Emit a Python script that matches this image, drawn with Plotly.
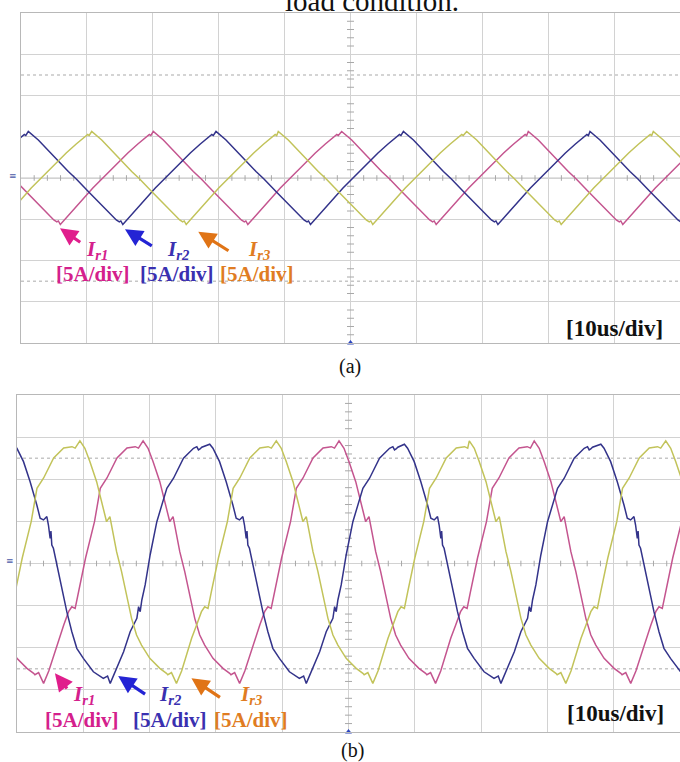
import plotly.graph_objects as go

W, H = 680, 762

# ---------------- Panel (a): light load (time in us, current in A) ----------------
# one measured cycle, offsets from a peak
A_CYCLE_T = [0.0, 1.52, 3.03, 4.55, 6.07, 7.28, 9.10, 10.62, 12.14, 13.35, 13.81, 14.04, 14.34,
             15.78, 17.45, 19.27, 20.94, 22.76, 24.58, 26.10, 27.31, 27.85, 28.07]
A_CYCLE_I = [5.64, 4.61, 3.39, 2.06, 0.79, -0.12, -1.64, -2.91, -4.18, -5.09, -5.33, -5.21, -5.64,
             -4.36, -2.79, -1.21, 0.12, 1.64, 3.03, 4.12, 4.91, 5.27, 5.15]
# measured peak times of each phase
A_PEAKS_IR1 = [-8.37, 20.08, 48.66, 76.98]
A_PEAKS_IR2 = [-27.34, 1.11, 29.59, 58.03, 86.34]
A_PEAKS_IR3 = [-17.72, 10.73, 39.04, 67.63, 95.95]

# ---------------- Panel (b): heavy load ----------------
B_CYCLE_T = [0.0, 0.75, 1.51, 2.52, 3.27, 3.77, 4.02, 4.52, 4.77, 5.53, 6.28, 7.03, 7.79, 8.54,
             9.29, 10.54, 12.05, 13.06, 13.25, 13.81, 14.56, 15.34, 16.10, 16.85, 17.60, 18.33,
             18.82, 19.32, 19.83, 20.89, 22.24, 23.11, 24.12, 25.63, 27.14, 28.39, 28.87]
B_CYCLE_I = [14.55, 13.68, 12.09, 9.71, 7.34, 5.76, 4.96, 5.56, 4.57, 1.40, -0.97, -3.74, -6.51, -8.49,
             -9.68, -11.26, -12.45, -13.04, -13.20, -12.95, -14.23, -12.77, -10.87, -8.88, -7.30, -5.72,
             -5.13, -5.32, -3.35, 0.65, 4.96, 8.93, 10.15, 12.53, 13.72, 13.87, 13.70]
B_BLUE_T = [0.0, 0.48, 1.48, 2.48, 3.49, 3.99, 4.49, 5.00, 5.24, 5.50, 5.62, 5.75, 5.99, 6.51, 7.50,
            8.01, 8.77, 9.52, 10.51, 12.02, 13.52, 14.16, 14.56, 15.57, 16.58, 17.57, 18.58, 18.84,
            19.08, 19.33, 19.59, 19.83, 20.58, 21.59, 23.10, 24.11, 25.61, 27.12, 27.62, 27.87,
            28.11, 28.37]
B_BLUE_I = [14.16, 13.68, 12.09, 9.71, 6.95, 5.37, 5.17, 5.56, 4.57, 2.99, 3.86, 2.20, 1.81, -0.18,
            -3.74, -5.72, -8.10, -10.07, -11.26, -12.85, -13.63, -13.36, -14.23, -12.45, -10.47,
            -8.10, -6.51, -5.13, -5.72, -4.33, -3.35, -2.55, 1.01, 4.96, 8.93, 10.12, 12.49, 13.68,
            13.87, 13.48, 13.60, 13.80]
B_PEAKS_IR1 = [-10.55, 19.02, 48.57, 78.01]
B_PEAKS_IR2 = [-0.50, 29.07, 58.43, 88.06]
B_PEAKS_IR3 = [-20.10, 9.49, 39.11, 68.22, 97.85]

COL_IR1 = "#c4558f"
COL_IR2 = "#33338a"
COL_IR3 = "#c2c35a"
TXT_IR1 = "#d4208c"
TXT_IR2 = "#3a30b0"
TXT_IR3 = "#e07c22"
ARR_IR1 = "#e01e8c"
ARR_IR2 = "#2424d4"
ARR_IR3 = "#e07416"


def build(peaks, ct, ci):
    t, y = [], []
    for k, p in enumerate(peaks):
        nxt = peaks[k + 1] if k + 1 < len(peaks) else None
        for dt, v in zip(ct, ci):
            if nxt is not None and p + dt >= nxt:
                break
            t.append(p + dt)
            y.append(v)
    return t, y


fig = go.Figure()

panels = [
    ("x", "y", [(A_PEAKS_IR1, A_CYCLE_T, A_CYCLE_I, COL_IR1, "Ir1"),
                (A_PEAKS_IR2, A_CYCLE_T, A_CYCLE_I, COL_IR2, "Ir2"),
                (A_PEAKS_IR3, A_CYCLE_T, A_CYCLE_I, COL_IR3, "Ir3")]),
    ("x2", "y2", [(B_PEAKS_IR1, B_CYCLE_T, B_CYCLE_I, COL_IR1, "Ir1"),
                  (B_PEAKS_IR2, B_BLUE_T, B_BLUE_I, COL_IR2, "Ir2"),
                  (B_PEAKS_IR3, B_CYCLE_T, B_CYCLE_I, COL_IR3, "Ir3")]),
]

shapes = []
for xa, ya, series in panels:
    # center tick marks (oscilloscope graticule)
    tx = [i * 2 for i in range(1, 50) if i % 5 != 0]
    fig.add_trace(go.Scatter(x=tx, y=[0] * len(tx), xaxis=xa, yaxis=ya, mode="markers",
                             marker=dict(symbol="line-ns", size=4, line=dict(width=1, color="#a8a8a8")),
                             hoverinfo="skip", showlegend=False))
    ty = [i for i in range(-19, 20) if i % 5 != 0]
    fig.add_trace(go.Scatter(x=[50] * len(ty), y=ty, xaxis=xa, yaxis=ya, mode="markers",
                             marker=dict(symbol="line-ew", size=5, line=dict(width=1, color="#a8a8a8")),
                             hoverinfo="skip", showlegend=False))
    for peaks, ct, ci, col, nm in series:
        t, y = build(peaks, ct, ci)
        fig.add_trace(go.Scatter(x=t, y=y, xaxis=xa, yaxis=ya, mode="lines", name=nm,
                                 line=dict(color=col, width=1.5), showlegend=False))
    # trigger marker
    fig.add_trace(go.Scatter(x=[50], y=[-20], xaxis=xa, yaxis=ya, mode="markers",
                             marker=dict(symbol="triangle-up", size=6, color="#2a44c0"),
                             cliponaxis=False, hoverinfo="skip", showlegend=False))
    for yv in (12.5, -12.5):
        shapes.append(dict(type="line", xref=xa, yref=ya, x0=0, x1=100, y0=yv, y1=yv,
                           line=dict(color="#c6c6c6", width=1.5, dash="dot"), layer="below"))
    shapes.append(dict(type="line", xref=xa, yref=ya, x0=0, x1=100, y0=0, y1=0,
                       line=dict(color="#c4c4c4", width=1), layer="below"))
    shapes.append(dict(type="line", xref=xa, yref=ya, x0=50, x1=50, y0=-20, y1=20,
                       line=dict(color="#b0b0b0", width=1), layer="below"))

axc = dict(showticklabels=False, ticks="", showgrid=True, gridcolor="#d2d2d2", gridwidth=1,
           zeroline=False, showline=True, linecolor="#b8b8b8", linewidth=1, mirror=True,
           fixedrange=True)

fig.update_layout(
    width=W, height=H, margin=dict(l=0, r=0, t=0, b=0),
    paper_bgcolor="white", plot_bgcolor="white",
    xaxis=dict(domain=[21 / W, 1], range=[0, 100], dtick=10, tick0=0, anchor="y", **axc),
    yaxis=dict(domain=[1 - 343 / H, 1 - 13 / H], range=[-20, 20], dtick=5, tick0=0, anchor="x", **axc),
    xaxis2=dict(domain=[17 / W, 1], range=[0, 100], dtick=10, tick0=0, anchor="y2", **axc),
    yaxis2=dict(domain=[1 - 732 / H, 1 - 395 / H], range=[-20, 20], dtick=5, tick0=0, anchor="x2", **axc),
    shapes=shapes,
    showlegend=False,
)

SERIF = "Liberation Serif"
ann = []


def label(xa, ya, x, y, text, color, size):
    ann.append(dict(xref=xa, yref=ya, x=x, y=y, text=text, showarrow=False,
                    font=dict(family=SERIF, size=size, color=color), xanchor="center", yanchor="middle"))


def arrow(xa, ya, x, y, ax, ay, color):
    ann.append(dict(xref=xa, yref=ya, x=x, y=y, ax=ax, ay=ay, axref="pixel", ayref="pixel",
                    text="", showarrow=True, arrowhead=2, arrowsize=1.1, arrowwidth=3.2,
                    arrowcolor=color))


def ir(n):
    return "<b><i>I</i></b><sub><b><i>r%d</i></b></sub>" % n


# panel (a)
arrow("x", "y", 5.92, -6.10, 21.7, 15.0, ARR_IR1)
arrow("x", "y", 15.78, -6.22, 28.3, 17.4, ARR_IR2)
arrow("x", "y", 26.90, -6.51, 31.7, 20.0, ARR_IR3)
label("x", "y", 11.6, -8.7, ir(1), TXT_IR1, 21)
label("x", "y", 23.75, -8.7, ir(2), TXT_IR2, 21)
label("x", "y", 36.04, -8.7, ir(3), TXT_IR3, 21)
label("x", "y", 10.85, -11.64, "<b>[5A/div]</b>", TXT_IR1, 21)
label("x", "y", 23.67, -11.64, "<b>[5A/div]</b>", TXT_IR2, 21)
label("x", "y", 35.74, -11.64, "<b>[5A/div]</b>", TXT_IR3, 21)
label("x", "y", 90.06, -18.3, "<b>[10us/div]</b>", "#111111", 23)

# panel (b)
arrow("x2", "y2", 5.72, -13.04, 13.3, 16.7, ARR_IR1)
arrow("x2", "y2", 15.26, -13.36, 28.4, 19.0, ARR_IR2)
arrow("x2", "y2", 26.31, -13.63, 30.0, 20.0, ARR_IR3)
label("x2", "y2", 10.1, -15.62, ir(1), TXT_IR1, 21)
label("x2", "y2", 23.04, -15.62, ir(2), TXT_IR2, 21)
label("x2", "y2", 35.32, -15.62, ir(3), TXT_IR3, 21)
label("x2", "y2", 9.86, -18.59, "<b>[5A/div]</b>", TXT_IR1, 21)
label("x2", "y2", 23.04, -18.59, "<b>[5A/div]</b>", TXT_IR2, 21)
label("x2", "y2", 35.24, -18.59, "<b>[5A/div]</b>", TXT_IR3, 21)
label("x2", "y2", 90.29, -17.81, "<b>[10us/div]</b>", "#111111", 23)

# captions and cut-off heading
ann.append(dict(xref="paper", yref="paper", x=350 / W, y=1 - 366 / H, text="(a)", showarrow=False,
                font=dict(family=SERIF, size=20, color="#111111"), xanchor="center", yanchor="middle"))
ann.append(dict(xref="paper", yref="paper", x=352 / W, y=1 - 750 / H, text="(b)", showarrow=False,
                font=dict(family=SERIF, size=20, color="#111111"), xanchor="center", yanchor="middle"))
ann.append(dict(xref="paper", yref="paper", x=372 / W, y=1 - 19 / H, text="load condition.",
                showarrow=False, font=dict(family=SERIF, size=29, color="#111111"),
                xanchor="center", yanchor="bottom"))
# channel markers at the left edge
ann.append(dict(xref="paper", yref="paper", x=13 / W, y=1 - 176 / H, text="≡", showarrow=False,
                font=dict(family="DejaVu Sans", size=9, color="#4a58a8"), xanchor="center", yanchor="middle"))
ann.append(dict(xref="paper", yref="paper", x=10 / W, y=1 - 561 / H, text="≡", showarrow=False,
                font=dict(family="DejaVu Sans", size=9, color="#4a58a8"), xanchor="center", yanchor="middle"))

fig.update_layout(annotations=ann)
fig.write_html("out.html", config={"displayModeBar": False},
               post_script="document.body.style.margin='0px';document.body.style.overflow='hidden';")
